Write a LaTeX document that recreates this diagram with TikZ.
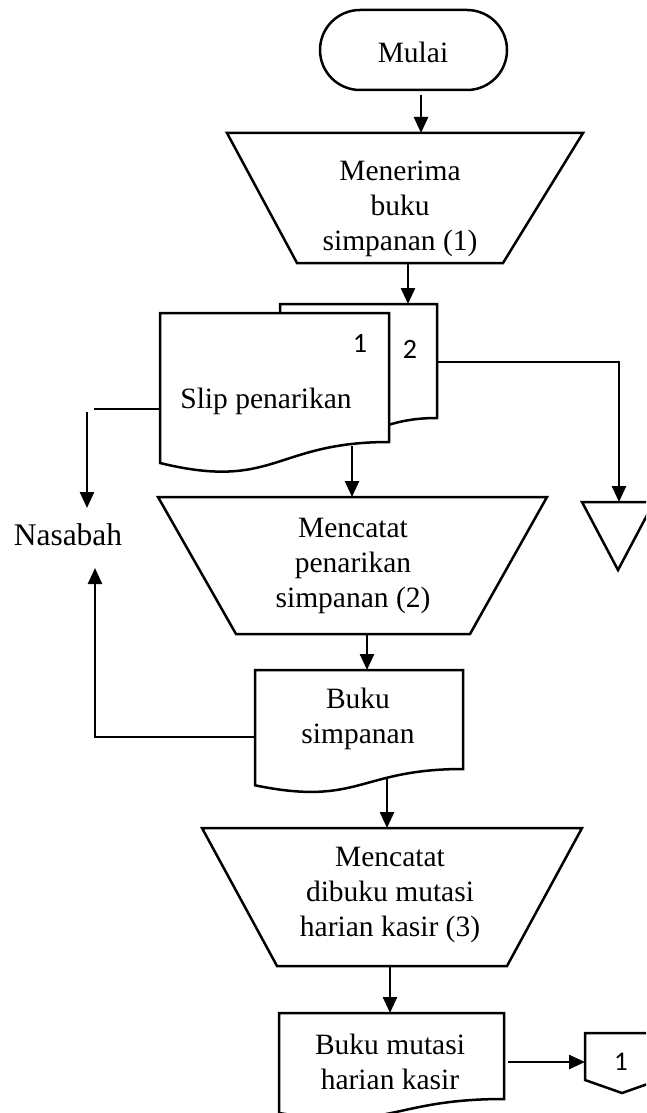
\documentclass[tikz,border=0pt]{standalone}
\usepackage{fontspec}
\setmainfont{Liberation Serif}
\newfontfamily\calibri{Carlito}
\usetikzlibrary{arrows.meta}
\begin{document}
\begin{tikzpicture}[x=1pt,y=-1pt,
  shp/.style={draw=black, line width=2.5pt, fill=white, line join=miter},
  lbl/.style={font=\fontsize{29.5}{35}\selectfont, align=center, inner sep=0pt},
  num/.style={font=\calibri\fontsize{28}{30}\selectfont, inner sep=0pt},
  arr/.style={draw=black, line width=2.5pt, -{Triangle[length=16pt,width=14pt]}},
  ln/.style={draw=black, line width=2.5pt}]
\useasboundingbox (0,0) rectangle (646,1113);
\clip (0,0) rectangle (646,1113);

% Mulai
\draw[shp, rounded corners=40pt] (320,10) rectangle (507,90);
\node[lbl] (mulai) at (413,52) {Mulai};
\coordinate (mulaiS) at (421,95);

% Trapezoid 1
\draw[shp] (227,133) -- (583,133) -- (503,263) -- (297,263) -- cycle;
\node[lbl] (t1) at (400,209) {Menerima\\buku\\simpanan (1)};
\coordinate (t1N) at (421,133);
\coordinate (t1S) at (408,263);

% Document 2 (back)
\draw[shp] (280,304) -- (437,304) -- (437,418)
  .. controls (358.5,418) and (358.5,461) .. (280,437) -- cycle;
\coordinate (d2N) at (408,304);
\coordinate (d2E) at (437,362);
\node[num, anchor=base] (n2) at (410,358) {2};

% Document 1 (front)
\draw[shp] (160,313) -- (389,313) -- (389,442)
  .. controls (274.5,442) and (274.5,491) .. (160,463) -- cycle;
\node[lbl, anchor=base] (slip) at (266,408) {Slip penarikan};
\node[num, anchor=base] (n1) at (360,352) {1};
\coordinate (d1W) at (160,409);
\coordinate (d1S) at (352,446);

% Nasabah
\node[lbl, font=\fontsize{31.5}{36}\selectfont, anchor=base] (nasabah) at (68,545) {Nasabah};
\coordinate (nasA) at (94,409);
\coordinate (nasB) at (87,412);
\coordinate (nasTopIn) at (87,508);
\coordinate (nasBotIn) at (95,568);
\coordinate (retCorner) at (95,737);

% Triangle (off-line storage)
\draw[shp] (582,502) -- (654,502) -- (618,570) -- cycle;
\coordinate (triN) at (619,502);
\coordinate (triCorner) at (619,362);

% Trapezoid 2
\draw[shp] (158,497) -- (547,497) -- (470,634) -- (236,634) -- cycle;
\node[lbl] (t2) at (353,566) {Mencatat\\penarikan\\simpanan (2)};
\coordinate (t2N) at (352,497);
\coordinate (t2S) at (367,634);

% Buku simpanan
\draw[shp] (255,670) -- (463,670) -- (463,769)
  .. controls (359,769) and (359,806.8) .. (255,785.3) -- cycle;
\node[lbl] (bs) at (358,719) {Buku\\simpanan};
\coordinate (bsN) at (367,670);
\coordinate (bsW) at (255,737);
\coordinate (bsS) at (387,778);

% Trapezoid 3
\draw[shp] (202,828) -- (582,828) -- (507,966) -- (277,966) -- cycle;
\node[lbl] (t3) at (390,895) {Mencatat\\dibuku mutasi\\harian kasir (3)};
\coordinate (t3N) at (387,828);
\coordinate (t3S) at (390,966);

% Buku mutasi harian kasir
\draw[shp] (279,1013) -- (504,1013) -- (504,1099)
  .. controls (391.5,1099) and (391.5,1131.5) .. (279,1113) -- cycle;
\node[lbl] (bm) at (390,1062) {Buku mutasi\\harian kasir};
\coordinate (bmN) at (390,1013);
\coordinate (bmE) at (508,1062);

% Off-page connector
\draw[shp] (585,1033) -- (659,1033) -- (659,1080) -- (622,1093) -- (585,1080) -- cycle;
\node[num, font=\calibri\fontsize{27}{30}\selectfont, anchor=base] (op) at (621,1070) {1};
\coordinate (opW) at (585,1062);

% Connectors
\draw[arr] (mulaiS) -- (t1N);
\draw[arr] (t1S) -- (d2N);
\draw[ln] (d1W) -- (nasA);
\draw[arr] (nasB) -- (nasTopIn);
\draw[arr] (d2E) -- (triCorner) -- (triN);
\draw[arr] (d1S) -- (t2N);
\draw[arr] (t2S) -- (bsN);
\draw[arr] (bsW) -- (retCorner) -- (nasBotIn);
\draw[arr] (bsS) -- (t3N);
\draw[arr] (t3S) -- (bmN);
\draw[arr] (bmE) -- (opW);
\end{tikzpicture}
\end{document}
